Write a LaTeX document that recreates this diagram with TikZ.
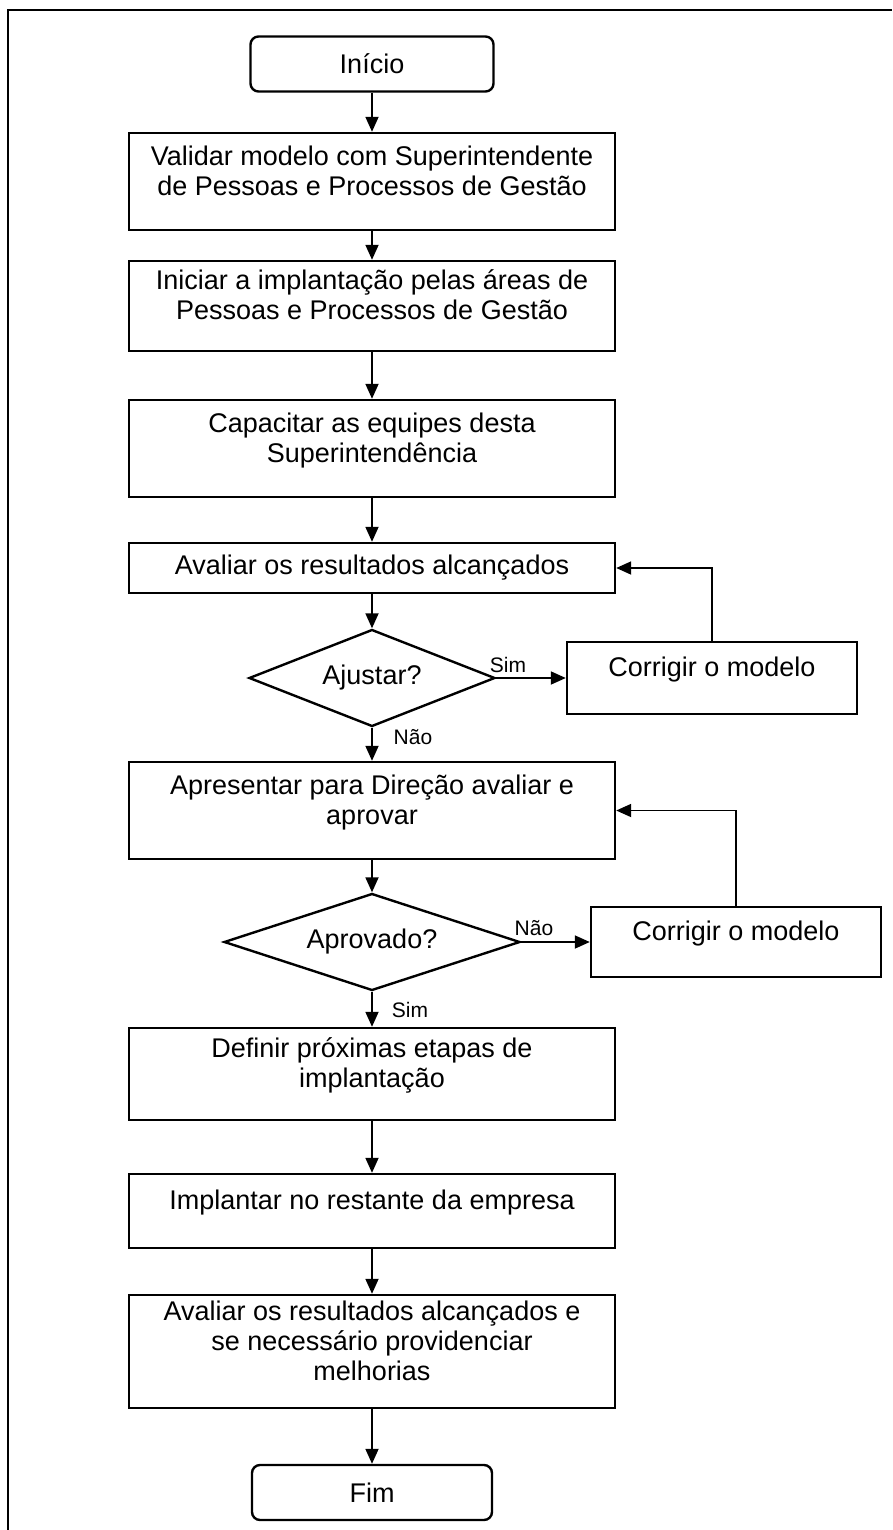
\documentclass[tikz,border=0pt]{standalone}
\usepackage{fontspec}
\setmainfont{Liberation Sans}
\usetikzlibrary{arrows.meta,shapes.geometric}

\begin{document}
\begin{tikzpicture}[x=1pt,y=-1pt,font=\fontsize{27}{30}\selectfont,
	proc/.style={minimum width=486pt},
	topo/.style={execute at end node={\rule[-22pt]{0pt}{22pt}}},
	term/.style={rounded corners=8pt,minimum width=243pt,minimum height=55pt},
	decisao/.style={diamond,aspect=2.5,minimum height=97pt}]
	\useasboundingbox (0,0) rectangle (892,1530);
	% moldura
	\draw[line width=1.5pt] (8,1530) -- (8,10) -- (892,10);

	\begin{scope}[every node/.style={draw,line width=2.4pt,rectangle,align=center,inner sep=0pt}]
	    \node[term] (inicio) at (372,64) {Início};
	    \node[proc,topo,minimum height=97pt] (validar) at (372,181.5) {Validar modelo com Superintendente\\de Pessoas e Processos de Gestão};
	    \node[proc,topo,minimum height=90pt] (iniciar) at (372,306) {Iniciar a implantação pelas áreas de\\Pessoas e Processos de Gestão};
	    \node[proc,topo,minimum height=97pt] (capacitar) at (372,448.5) {Capacitar as equipes desta\\Superintendência};
	    \node[proc,minimum height=50pt] (avaliar) at (372,568) {Avaliar os resultados alcançados};
	    \node[decisao,minimum width=246pt] (ajustar) at (372,678) {Ajustar?};
	    \node[proc,topo,minimum width=290pt,minimum height=72pt] (corrigirA) at (712,678) {Corrigir o modelo};
	    \node[proc,topo,minimum height=97pt] (apresentar) at (372,810.5) {Apresentar para Direção avaliar e\\aprovar};
	    \node[decisao,minimum width=296pt] (aprovado) at (372,942) {Aprovado?};
	    \node[proc,topo,minimum width=290pt,minimum height=70pt] (corrigirB) at (736,942) {Corrigir o modelo};
	    \node[proc,topo,minimum height=92pt] (definir) at (372,1074) {Definir próximas etapas de\\implantação};
	    \node[proc,topo,minimum height=74pt] (implantar) at (372,1211) {Implantar no restante da empresa};
	    \node[proc,topo,minimum height=113pt] (avaliarB) at (372,1351.5) {Avaliar os resultados alcançados e\\se necessário providenciar\\melhorias};
	    \node[term,minimum width=240pt] (fim) at (372,1492.5) {Fim};
	\end{scope}

	\begin{scope}[every node/.style={font=\fontsize{21}{24}\selectfont,inner sep=0pt}]
	    \node (simA) at (508,665) {Sim};
	    \node (naoA) at (413,737) {Não};
	    \node (naoB) at (534,928) {Não};
	    \node (simB) at (410,1010) {Sim};
	\end{scope}

	\begin{scope}[>={Triangle[length=15pt,width=13pt]},line width=1.8pt]
	    \draw[->] (inicio) -- (validar);
	    \draw[->] (validar) -- (iniciar);
	    \draw[->] (iniciar) -- (capacitar);
	    \draw[->] (capacitar) -- (avaliar);
	    \draw[->] (avaliar) -- (ajustar);
	    \draw[->] (ajustar.east) -- (corrigirA.west);
	    \draw[->] (corrigirA.north) |- (avaliar.east);
	    \draw[->] (ajustar) -- (apresentar);
	    \draw[->] (apresentar) -- (aprovado);
	    \draw[->] (aprovado.east) -- (corrigirB.west);
	    \draw[->] (corrigirB.north) |- (apresentar.east);
	    \draw[->] (aprovado) -- (definir);
	    \draw[->] (definir) -- (implantar);
	    \draw[->] (implantar) -- (avaliarB);
	    \draw[->] (avaliarB) -- (fim);
	\end{scope}
\end{tikzpicture}
\end{document}
